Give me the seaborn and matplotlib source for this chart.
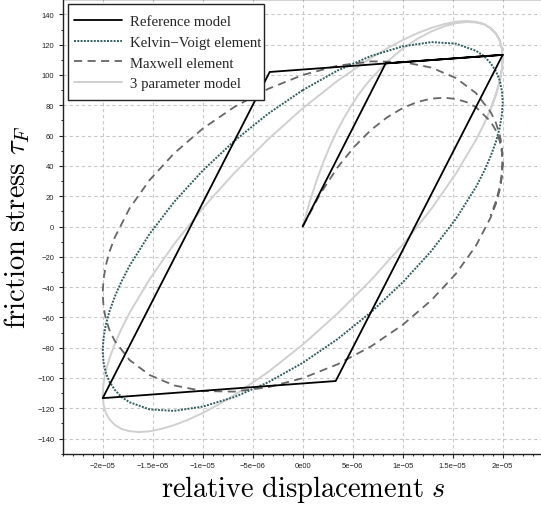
import matplotlib
matplotlib.use("Agg")
import numpy as np
import seaborn as sns
import matplotlib.pyplot as plt
from matplotlib.patches import Rectangle
from matplotlib.ticker import MultipleLocator

# displacement values below are given in micrometres
UM = 1e-6

# Reference (elasto-plastic) model: virgin loading, then one full hysteresis loop
ref_s = [0.0, 8.3, 20.0, 3.3, -20.0, -3.3, 20.0]
ref_tau = [0.0, 107.7, 113.3, -102.0, -113.3, 102.0, 113.3]

# Kelvin-Voigt element: closed loop
kv_s = [0.0, 3.47, 6.84, 10.0, 12.86, 15.32, 17.32, 18.13, 18.79, 19.32, 19.70, 19.92, 20.0,
        19.92, 19.70, 19.32, 18.79, 18.13, 17.32, 15.32, 12.86, 10.0, 6.84, 3.47, 0.0,
        -3.47, -6.84, -10.0, -12.86, -15.32, -17.32, -18.13, -18.79, -19.32, -19.70, -19.92, -20.0,
        -19.92, -19.70, -19.32, -18.79, -18.13, -17.32, -15.32, -12.86, -10.0, -6.84, -3.47, 0.0]
kv_tau = [90.0, 102.9, 112.6, 118.9, 121.7, 120.7, 116.0, 112.5, 107.8, 102.5, 96.4, 89.5, 82.0,
          73.9, 65.1, 55.9, 46.3, 36.4, 26.0, 5.0, -16.2, -36.9, -56.5, -74.4, -90.0,
          -102.9, -112.6, -118.9, -121.7, -120.7, -116.0, -112.5, -107.8, -102.5, -96.4, -89.5, -82.0,
          -73.9, -65.1, -55.9, -46.3, -36.4, -26.0, -5.0, 16.2, 36.9, 56.5, 74.4, 90.0]

# Maxwell element: start-up from rest, then the settled loop
mx_s = [0.0, 1.74, 3.47, 5.18, 6.84, 8.45, 10.0, 11.47, 12.86, 14.14, 15.32, 16.38, 17.32,
        18.79, 19.32, 19.70, 19.92, 20.0, 19.92, 19.70, 19.32, 18.79,
        17.32, 15.32, 12.86, 10.0, 6.84, 3.47, 0.0,
        -3.47, -6.84, -10.0, -12.86, -15.32, -17.32,
        -18.79, -19.32, -19.70, -19.92, -20.0, -19.92, -19.70, -19.32, -18.79,
        -17.32, -15.32, -12.86, -10.0, -6.84, -3.47, 0.0,
        3.47, 6.84, 10.0, 12.86, 15.32, 17.32,
        18.79, 19.32, 19.70, 19.92, 20.0, 19.92, 19.70, 19.32, 18.79]
mx_tau = [0.0, 21.4, 38.9, 52.8, 63.8, 72.1, 78.2, 82.2, 84.4, 85.0, 84.2, 82.1, 78.8,
          69.3, 63.3, 56.5, 49.1, 41.2, 32.8, 24.1, 15.0, 5.9,
          -12.8, -31.2, -48.7, -64.9, -79.1, -91.0, -100.1,
          -106.1, -109.0, -108.6, -104.9, -98.0, -88.1,
          -75.6, -68.4, -60.7, -52.6, -44.0, -35.1, -26.0, -16.6, -7.2,
          11.9, 30.6, 48.3, 64.6, 78.9, 90.8, 100.0,
          106.1, 109.0, 108.6, 104.9, 98.0, 88.1,
          75.6, 68.4, 60.7, 52.6, 44.0, 35.1, 26.0, 16.6, 7.2]

# 3 parameter model: start-up from rest, then the settled loop
tp_s = [0.0, 0.70, 1.40, 2.09, 2.78, 3.47, 4.16, 4.84, 5.51, 6.18, 6.84,
        8.45, 10.0, 11.47, 12.86, 14.14, 15.32, 16.38, 17.32,
        18.13, 18.79, 19.32, 19.70, 19.92, 20.0, 19.92, 19.70, 19.32, 18.79, 18.13, 17.32,
        15.32, 12.86, 10.0, 6.84, 3.47, 0.0,
        -3.47, -6.84, -8.45, -10.0, -11.47, -12.86, -14.14, -15.32, -16.38, -17.32,
        -18.13, -18.79, -19.32, -19.70, -19.92, -20.0, -19.92, -19.70, -19.32, -18.79, -18.13, -17.32,
        -15.32, -12.86, -10.0, -6.84, -3.47, 0.0,
        3.47, 6.84, 8.45, 10.0, 11.47, 12.86, 14.14, 15.32, 16.38, 17.32,
        18.13, 18.79, 19.32, 19.70, 19.92, 20.0, 19.92, 19.70, 19.32, 18.79]
tp_tau = [0.0, 16.3, 30.5, 43.0, 53.9, 63.5, 72.0, 79.5, 86.3, 92.3, 97.6,
          108.8, 117.4, 123.9, 128.7, 132.1, 134.2, 135.0, 134.7,
          133.5, 130.8, 127.4, 122.8, 117.4, 111.0, 103.8, 95.8, 87.0, 77.6, 67.6, 57.1,
          34.9, 11.6, -12.1, -35.3, -57.5, -78.0,
          -96.1, -111.3, -117.6, -123.1, -127.6, -131.1, -133.6, -135.2, -135.7, -135.1,
          -133.6, -131.0, -127.4, -122.9, -117.4, -111.0, -103.8, -95.8, -87.0, -77.6, -67.6, -57.1,
          -34.9, -11.6, 12.1, 35.3, 57.5, 78.0,
          96.1, 111.3, 117.6, 123.1, 127.6, 131.1, 133.6, 135.2, 135.7, 135.1,
          133.6, 131.0, 127.4, 122.9, 117.4, 111.0, 103.8, 95.8, 87.0, 77.6]

series_labels = ["Reference model", "Kelvin\u2212Voigt element",
                 "Maxwell element", "3 parameter model"]

xtick_vals = [-2e-05, -1.5e-05, -1e-05, -5e-06, 0.0, 5e-06, 1e-05, 1.5e-05, 2e-05]
xtick_labels = ["\u22122e\u221205", "\u22121.5e\u221205", "\u22121e\u221205", "\u22125e\u221206",
                "0e00", "5e\u221206", "1e\u221205", "1.5e\u221205", "2e\u221205"]
ytick_vals = list(range(-140, 141, 20))
ytick_labels = [("\u2212%d" % -v) if v < 0 else "%d" % v for v in ytick_vals]

sns.set_theme(style="ticks")
plt.rcParams.update({
    "font.family": ["Liberation Sans", "DejaVu Sans"],
    "mathtext.fontset": "cm",
    "axes.unicode_minus": True,
})

W, H = 541, 506
fig = plt.figure(figsize=(W / 100, H / 100), dpi=100)
ax = fig.add_axes([62.7 / W, 1 - 454.75 / H, 480 / W, 454.5 / H])

def to_m(vals):
    return np.asarray(vals) * UM

sns.lineplot(x=to_m(ref_s), y=ref_tau, sort=False, estimator=None, ax=ax,
             color="black", linewidth=1.3, label=series_labels[0], zorder=5)
sns.lineplot(x=to_m(kv_s), y=kv_tau, sort=False, estimator=None, ax=ax,
             color="#2f5d5d", linewidth=1.4, linestyle=(0, (1.0, 0.7)),
             label=series_labels[1], zorder=4)
sns.lineplot(x=to_m(mx_s), y=mx_tau, sort=False, estimator=None, ax=ax,
             color="#666666", linewidth=1.3, linestyle=(0, (4.5, 3.0)),
             label=series_labels[2], zorder=3)
sns.lineplot(x=to_m(tp_s), y=tp_tau, sort=False, estimator=None, ax=ax,
             color="#d0d0d0", linewidth=1.4, label=series_labels[3], zorder=2)

ax.set_xlim(-2.4e-05, 2.4e-05)
ax.set_ylim(-150, 150)

ax.set_xticks(xtick_vals)
ax.set_xticklabels(xtick_labels)
ax.set_yticks(ytick_vals)
ax.set_yticklabels(ytick_labels)
ax.xaxis.set_minor_locator(MultipleLocator(1e-06))
ax.yaxis.set_minor_locator(MultipleLocator(10))
ax.tick_params(which="major", direction="out", length=3, width=0.8,
               labelsize=5.5, pad=3, top=False, right=False, colors="#222222")
ax.tick_params(which="minor", direction="out", length=1.6, width=0.7,
               top=False, right=False, colors="#222222")

ax.grid(True, which="major", color="#c8c8c8", linestyle=(0, (3, 2.5)), linewidth=0.8)
ax.set_axisbelow(True)
for sp in ax.spines.values():
    sp.set_color("#222222")
    sp.set_linewidth(1.0)

ax.set_xlabel(r"$\mathrm{relative\ displacement}\ s$", fontsize=20.5, labelpad=3, color="black")
ax.set_ylabel(r"$\mathrm{friction\ stress}\ \tau_F$", fontsize=20.5, labelpad=4, color="black")

# legend frame drawn as its own box, entries laid out inside it
legend_box = Rectangle((68 / W, 1 - 100.5 / H), 195.5 / W, 95.5 / H,
                       transform=fig.transFigure, facecolor="white",
                       edgecolor="#222222", linewidth=1.0, zorder=9, clip_on=False)
ax.add_patch(legend_box)
leg = ax.legend(loc="upper left", bbox_to_anchor=(68.2 / W, 1 - 10 / H),
                bbox_transform=fig.transFigure, borderaxespad=0,
                prop={"family": "Liberation Serif", "size": 10.6},
                handlelength=3.25, handletextpad=0.55, labelspacing=0.5,
                frameon=False, borderpad=0.4)
leg.set_zorder(10)

fig.savefig("out.png", dpi=100)
